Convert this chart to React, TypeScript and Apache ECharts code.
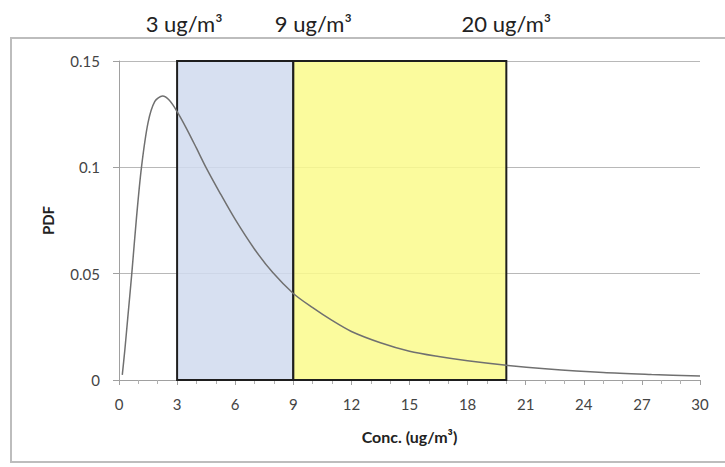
import React, { useEffect, useRef } from "react";
import * as echarts from "echarts";

const concX = [0.17, 0.3, 0.45, 0.66, 0.9, 1.16, 1.5, 1.85, 2.25, 2.6, 3, 3.5, 4, 4.49, 5.18, 6, 7, 7.94, 9, 10, 11, 12, 13.5, 15, 16.5, 18, 20, 22, 25, 27.5, 30];
const pdfY = [0.0024, 0.014, 0.029, 0.05, 0.076, 0.1, 0.121, 0.131, 0.1335, 0.1315, 0.1262, 0.118, 0.109, 0.1, 0.0885, 0.0755, 0.0615, 0.0505, 0.0407, 0.034, 0.028, 0.0228, 0.0175, 0.0135, 0.011, 0.009, 0.0069, 0.0053, 0.0035, 0.0026, 0.0019];

const boxEdges = [3, 9, 20];
const boxTop = 0.15;
const boxColors = ["rgba(208,218,238,0.85)", "rgba(250,250,140,0.85)"];
const boxLabels = ["3 ug/m³", "9 ug/m³", "20 ug/m³"];
const labelOffsets = [7, 20, 0];

const xTicks = { min: 0, max: 30, interval: 3 };
const yTicks = { min: 0, max: 0.15, interval: 0.05 };

const FONT = "Lato, 'Noto Sans', sans-serif";

export default function App() {
  const ref = useRef<HTMLDivElement>(null);
  useEffect(() => {
    if (!ref.current) return;
    const chart = echarts.init(ref.current, null, { renderer: "svg" });
    const curve = concX.map((x, i) => [x, pdfY[i]]);
    const areas = boxColors.map((c, i) => [
      { xAxis: boxEdges[i], yAxis: 0, itemStyle: { color: c } },
      { xAxis: boxEdges[i + 1], yAxis: boxTop },
    ]);
    chart.setOption({
      animation: false,
      backgroundColor: "#fff",
      textStyle: { fontFamily: FONT },
      graphic: [
        {
          type: "rect",
          shape: { x: 11, y: 38, width: 740, height: 424 },
          style: { fill: "none", stroke: "#bdbdbd", lineWidth: 2 },
          silent: true,
        },
      ],
      grid: { left: 119, right: 25, top: 61, bottom: 87 },
      xAxis: {
        type: "value",
        min: xTicks.min,
        max: xTicks.max,
        interval: xTicks.interval,
        name: "Conc. (ug/m³)",
        nameLocation: "middle",
        nameGap: 48,
        nameTextStyle: { fontFamily: FONT, fontSize: 16, fontWeight: "bold", color: "#222" },
        axisLine: { lineStyle: { color: "#a0a0a0", width: 1 } },
        axisTick: { show: true, length: 5, lineStyle: { color: "#a0a0a0" } },
        minorTick: { show: true, splitNumber: 3, length: 4, lineStyle: { color: "#b0b0b0" } },
        axisLabel: { fontFamily: FONT, fontSize: 15, color: "#444", margin: 16 },
        splitLine: { show: false },
      },
      yAxis: {
        type: "value",
        min: yTicks.min,
        max: yTicks.max,
        interval: yTicks.interval,
        name: "PDF",
        nameLocation: "middle",
        nameGap: 64,
        nameTextStyle: { fontFamily: FONT, fontSize: 15, fontWeight: "bold", color: "#222" },
        axisLine: { show: true, lineStyle: { color: "#a0a0a0", width: 1 } },
        axisTick: { show: true, length: 6, lineStyle: { color: "#a0a0a0" } },
        axisLabel: { fontFamily: FONT, fontSize: 15, color: "#444", margin: 19 },
        splitLine: { show: true, lineStyle: { color: "#b8b8b8", width: 1 } },
      },
      series: [
        {
          type: "line",
          data: [],
          z: 1,
          silent: true,
          markArea: {
            silent: true,
            itemStyle: { borderColor: "#1e1e1e", borderWidth: 2 },
            data: areas,
          },
          markPoint: {
            silent: true,
            symbol: "circle",
            symbolSize: 0,
            data: boxEdges.map((x, i) => ({
              coord: [x, boxTop],
              label: {
                show: true,
                formatter: boxLabels[i],
                position: "top",
                distance: 27,
                offset: [labelOffsets[i], 0],
                fontFamily: FONT,
                fontSize: 22,
                color: "#222",
              },
            })),
          },
        },
        {
          type: "line",
          data: curve,
          z: 5,
          smooth: 0.3,
          showSymbol: false,
          symbol: "none",
          lineStyle: { color: "#707070", width: 1.5 },
          silent: true,
        },
      ],
    });
    return () => chart.dispose();
  }, []);
  return (
    <div
      ref={ref}
      style={{ position: "fixed", left: 0, top: 0, width: 725, height: 467 }}
    />
  );
}
